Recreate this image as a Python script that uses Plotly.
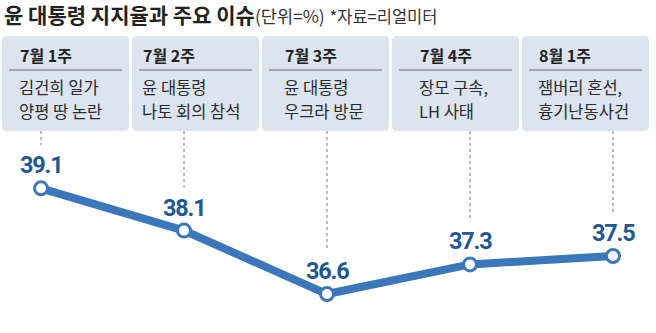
import plotly.graph_objects as go

# ---- data ----
weeks = ["7월 1주", "7월 2주", "7월 3주", "7월 4주", "8월 1주"]
issues = [
    ["김건희 일가", "양평 땅 논란"],
    ["윤 대통령", "나토 회의 참석"],
    ["윤 대통령", "우크라 방문"],
    ["장모 구속,", "LH 사태"],
    ["잼버리 혼선,", "흉기난동사건"],
]
approval = [39.1, 38.1, 36.6, 37.3, 37.5]
title_main = "윤 대통령 지지율과 주요 이슈"
title_unit = "(단위=%)"
title_src = "*자료=리얼미터"

# ---- layout constants (pixels) ----
W, H = 656, 333
X_RANGE = [-0.2867, 4.3007]
Y_RANGE = [35.679, 43.552]
LINE_C = "#3a77bb"
LABEL_C = "#1f5892"
BOX_C = "#dce4ef"
box_left = [2, 132, 262, 392, 522]
box_w = 127
box_top, box_bot = 36, 131
text_left = [18, 141, 283, 418, 537]
body_y = [87.3, 111.3]

def px(x):
    return x / W

def py(y):
    return 1 - y / H

def y_px_to_data(y):
    return Y_RANGE[1] - (y / H) * (Y_RANGE[1] - Y_RANGE[0])

def rounded(x0, y0, x1, y1, r=5):
    rx, ry = r / W, r / H
    X0, X1 = px(x0), px(x1)
    Y0, Y1 = py(y0), py(y1)
    return (f"M {X0+rx},{Y0} L {X1-rx},{Y0} Q {X1},{Y0} {X1},{Y0-ry} "
            f"L {X1},{Y1+ry} Q {X1},{Y1} {X1-rx},{Y1} "
            f"L {X0+rx},{Y1} Q {X0},{Y1} {X0},{Y1+ry} "
            f"L {X0},{Y0-ry} Q {X0},{Y0} {X0+rx},{Y0} Z")

fig = go.Figure()
xs = list(range(len(approval)))

shapes = []
annotations = []
for i in xs:
    l = box_left[i]
    shapes.append(dict(type="path", xref="paper", yref="paper",
                       path=rounded(l, box_top, l + box_w, box_bot),
                       fillcolor=BOX_C, line=dict(width=0), layer="below"))
    shapes.append(dict(type="line", xref="paper", yref="paper",
                       x0=px(l + 7), x1=px(l + box_w - 7), y0=py(70), y1=py(70),
                       line=dict(color="#666666", width=1)))
    shapes.append(dict(type="line", xref="x", yref="y",
                       x0=i, x1=i, y0=y_px_to_data(box_bot), y1=approval[i] + 1.02,
                       line=dict(color="#777777", width=1, dash="dot"), layer="below"))
    annotations.append(dict(xref="paper", yref="paper", x=px(text_left[i]), y=py(55),
                            xanchor="left", yanchor="middle", showarrow=False,
                            text=f"<b>{weeks[i]}</b>",
                            font=dict(family="Noto Sans CJK KR", size=16, color="#222222")))
    for j, line in enumerate(issues[i]):
        annotations.append(dict(xref="paper", yref="paper", x=px(text_left[i]), y=py(body_y[j]),
                                xanchor="left", yanchor="middle", showarrow=False,
                                borderpad=0, text=line,
                                font=dict(family="Noto Sans CJK KR", size=16.5, color="#2a2a2a")))
    annotations.append(dict(xref="x", yref="y", x=i, y=approval[i], yshift=23,
                            xanchor="center", yanchor="middle", showarrow=False,
                            text=f"<span style='letter-spacing:-1.2px'><b>{approval[i]}</b></span>",
                            font=dict(family="Roboto", size=23.5, color=LABEL_C)))

annotations.append(dict(xref="paper", yref="paper", x=px(2), y=py(14),
                        xanchor="left", yanchor="middle", showarrow=False,
                        text=(f"<b>{title_main}</b>"
                              f"<span style='font-size:17.5px;color:#333'>{title_unit}</span> "
                              f"<span style='font-size:16.5px;color:#333'>{title_src}</span>"),
                        font=dict(family="Noto Sans CJK KR", size=21, color="#222222")))

fig.add_trace(go.Scatter(
    x=xs, y=approval, mode="lines+markers",
    line=dict(color=LINE_C, width=8),
    marker=dict(size=13, color="white", line=dict(color=LINE_C, width=3)),
    hoverinfo="skip"))

fig.update_layout(
    width=W, height=H, autosize=False,
    margin=dict(l=0, r=0, t=0, b=0),
    paper_bgcolor="white", plot_bgcolor="white",
    showlegend=False,
    xaxis=dict(range=X_RANGE, visible=False, fixedrange=True),
    yaxis=dict(range=Y_RANGE, visible=False, fixedrange=True),
    shapes=shapes, annotations=annotations,
)

fig.write_html("out.html", config={"displayModeBar": False})
